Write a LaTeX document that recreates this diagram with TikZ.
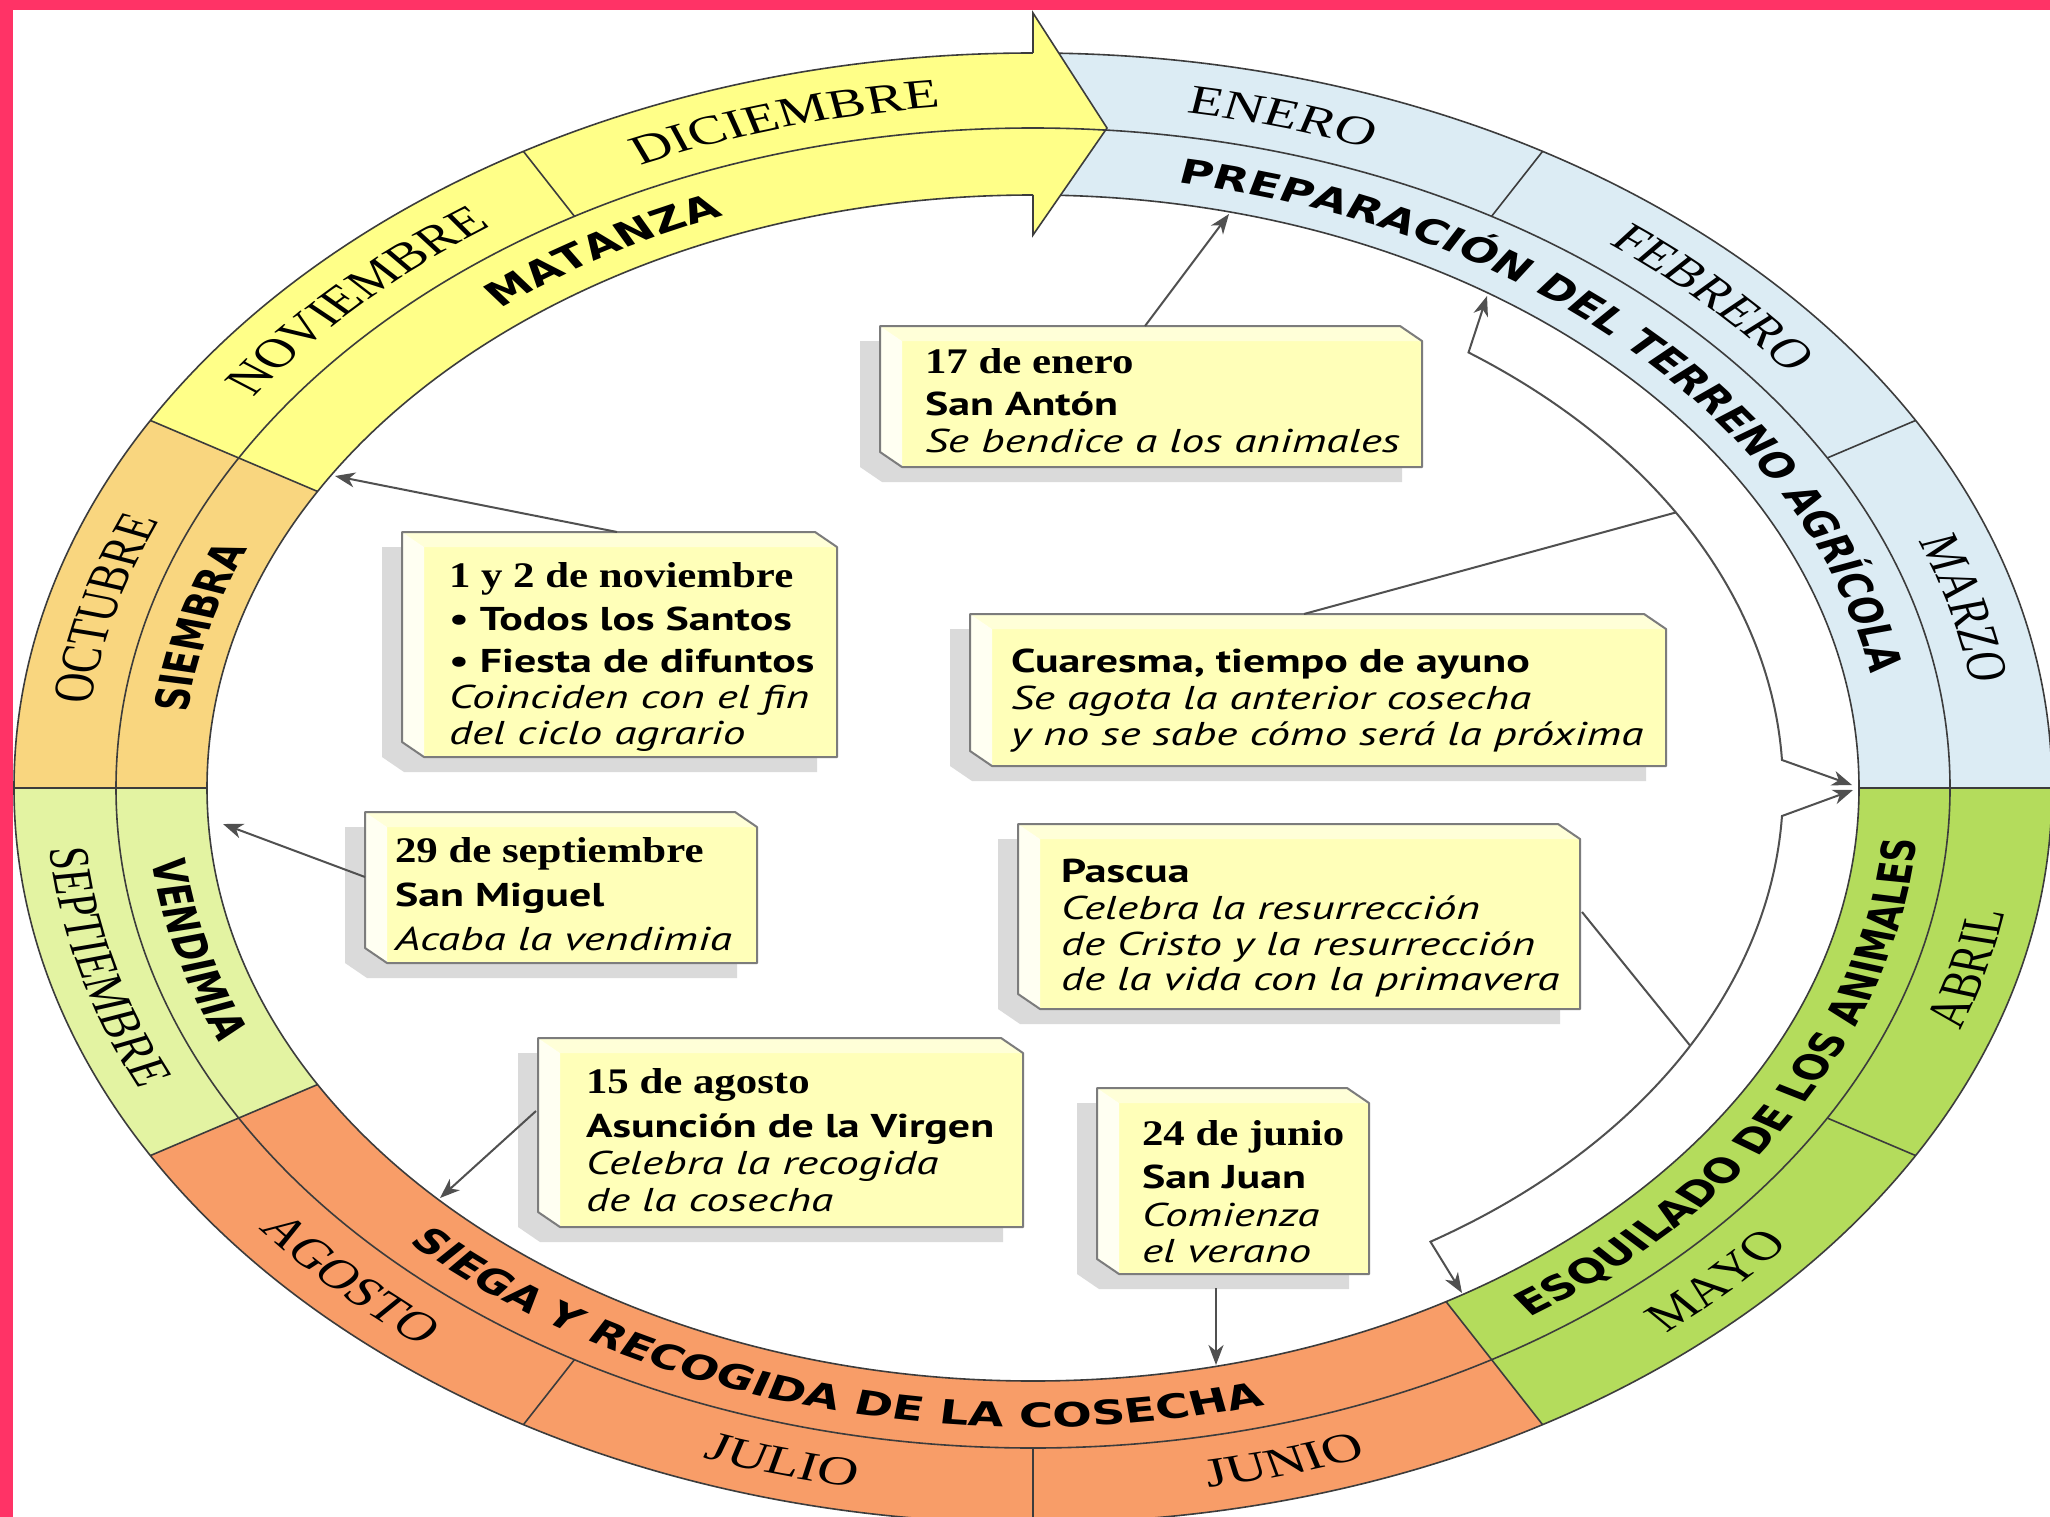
\documentclass[tikz,border=0pt]{standalone}
\usepackage{fontspec}
\setmainfont{Liberation Serif}
\newfontfamily\monthfam{Liberation Serif}
\newfontfamily\actfam{DejaVu Sans}
\newfontfamily\datefam[FakeStretch=1.19]{Liberation Serif}
\newfontfamily\boxboldfam[FakeStretch=1.33]{PT Sans}
\newfontfamily\boxitfam[FakeStretch=1.375]{PT Sans}
\usetikzlibrary{decorations.text,arrows.meta,calc}

\definecolor{framepink}{HTML}{FF3366}
\definecolor{cyellow}{HTML}{FFFF88}
\definecolor{corange}{HTML}{F9D67F}
\definecolor{clgreen}{HTML}{E3F3A2}
\definecolor{csalmon}{HTML}{F89D68}
\definecolor{cgreen}{HTML}{B4DC5C}
\definecolor{cblue}{HTML}{DCECF4}
\definecolor{ringline}{HTML}{3C3C3C}
\definecolor{boxfront}{HTML}{FFFFB9}
\definecolor{boxtop}{HTML}{FFFFD8}
\definecolor{boxleft}{HTML}{FFFFF2}
\definecolor{boxedge}{HTML}{7C7C7C}
\definecolor{boxshade}{HTML}{DADADA}
\definecolor{connline}{HTML}{505050}

\newcommand\boxdatefont{\datefam\bfseries\fontsize{36}{40}\selectfont}
\newcommand\boxnamefont{\boxboldfam\bfseries\fontsize{33}{38}\selectfont}
\newcommand\boxitfont{\boxitfam\itshape\fontsize{33}{38}\selectfont}
\newcommand\ringmonthfont{\monthfam\fontsize{41}{45}\selectfont}
\newcommand\ringactfont{\actfam\bfseries\fontsize{33.5}{38}\selectfont}

\tikzset{
  ringedge/.style={draw=ringline, line width=1.6pt},
  conn/.style={draw=connline, line width=2pt},
  tipped/.style={-{Stealth[length=20pt,width=15pt,inset=6pt]}},
  bothtipped/.style={{Stealth[length=20pt,width=15pt,inset=6pt]}-{Stealth[length=20pt,width=15pt,inset=6pt]}},
  txt/.style={anchor=base west, inner sep=0pt, outer sep=0pt},
  boxanchor/.style={inner sep=0pt, outer sep=0pt, anchor=north west},
  cwtext/.style={decorate, decoration={text along path, text align=center, text={#1}}},
}

% #1 name, #2 L, #3 T, #4 R, #5 B  (image pixels, y downwards)
\newcommand\evbox[5]{%
  \fill[boxshade] (#2-20,-#3-15) -- (#4-42,-#3-15) -- (#4-20,-#3-30) -- (#4-20,-#5-15) -- (#2+2,-#5-15) -- (#2-20,-#5) -- cycle;
  \node[boxanchor, minimum width={(#4-#2)*1pt}, minimum height={(#5-#3)*1pt}] (#1) at (#2,-#3) {};
  \fill[boxfront] (#2,-#3) -- (#4-22,-#3) -- (#4,-#3-15) -- (#4,-#5) -- (#2+22,-#5) -- (#2,-#5+15) -- cycle;
  \fill[boxtop] (#2,-#3) -- (#4-22,-#3) -- (#4,-#3-15) -- (#2+22,-#3-15) -- cycle;
  \fill[boxleft] (#2,-#3) -- (#2+22,-#3-15) -- (#2+22,-#5) -- (#2,-#5+15) -- cycle;
  \draw[boxedge, line width=2pt, line join=round] (#2,-#3) -- (#4-22,-#3) -- (#4,-#3-15) -- (#4,-#5) -- (#2+22,-#5) -- (#2,-#5+15) -- cycle;
}

\newcommand\ringsector[3]{%
  \fill[#3] (#1:1019 and 735) arc[start angle=#1,end angle=#2,x radius=1019,y radius=735]
    -- (#2:826 and 593) arc[start angle=#2,end angle=#1,x radius=826,y radius=593] -- cycle;}

\begin{document}
\begin{tikzpicture}[x=1pt,y=1pt]
\useasboundingbox (0,0) rectangle (2050,-1517);
\clip (0,0) rectangle (2050,-1517);
\fill[framepink] (0,0) rectangle (2050,-1517);
\fill[white] (13,-10) rectangle (2050,-1517);

% ---------------- ring shapes ----------------
\begin{scope}[shift={(1033,-788)}]
  \ringsector{90}{150}{cyellow}
  \ringsector{150}{180}{corange}
  \ringsector{180}{210}{clgreen}
  \ringsector{210}{300}{csalmon}
  \ringsector{300}{360}{cgreen}
  \ringsector{0}{90}{cblue}
  \draw[ringedge] (0,0) ellipse[x radius=1019,y radius=735];
  \draw[ringedge] (0,0) ellipse[x radius=917,y radius=660];
  \draw[ringedge] (0,0) ellipse[x radius=826,y radius=593];
  \foreach \a in {150,180,210,300,0}
    \draw[ringedge] (\a:826 and 593) -- (\a:1019 and 735);
  \foreach \a in {120,60,30,330,270,240}
    \draw[ringedge] (\a:917 and 660) -- (\a:1019 and 735);
  % arrow head
  \fill[cyellow] (0,775) -- (74,660) -- (0,553) -- cycle;
  \draw[ringedge, line join=miter] (0,735) -- (0,775) -- (74,660) -- (0,553) -- (0,593);
  \draw[ringedge] (90:917 and 660) arc[start angle=90,end angle=85.4,x radius=917,y radius=660];
\end{scope}

% ---------------- ring texts ----------------
\begin{scope}[transform canvas={shift={(1033pt,-788pt)},xscale=1.388}]
  % months, upper half (clockwise)
  \path[cwtext={|\ringmonthfont|OCTUBRE}] (180:684) arc[start angle=180,end angle=150,radius=684];
  \path[cwtext={|\ringmonthfont|NOVIEMBRE}] (150:684) arc[start angle=150,end angle=120,radius=684];
  \path[cwtext={|\ringmonthfont|DICIEMBRE}] (120:684) arc[start angle=120,end angle=90,radius=684];
  \path[cwtext={|\ringmonthfont|ENERO}] (90:684) arc[start angle=90,end angle=60,radius=684];
  \path[cwtext={|\ringmonthfont|FEBRERO}] (60:684) arc[start angle=60,end angle=30,radius=684];
  \path[cwtext={|\ringmonthfont|MARZO}] (30:684) arc[start angle=30,end angle=0,radius=684];
  % months, lower half (counter-clockwise)
  \path[cwtext={|\ringmonthfont|SEPTIEMBRE}] (180:711) arc[start angle=180,end angle=210,radius=711];
  \path[cwtext={|\ringmonthfont|AGOSTO}] (210:711) arc[start angle=210,end angle=240,radius=711];
  \path[cwtext={|\ringmonthfont|JULIO}] (240:711) arc[start angle=240,end angle=270,radius=711];
  \path[cwtext={|\ringmonthfont|JUNIO}] (270:711) arc[start angle=270,end angle=300,radius=711];
  \path[cwtext={|\ringmonthfont|MAYO}] (300:711) arc[start angle=300,end angle=330,radius=711];
  \path[cwtext={|\ringmonthfont|ABRIL}] (330:711) arc[start angle=330,end angle=360,radius=711];
  % activities
  \path[cwtext={|\ringactfont|SIEMBRA}] (180:614) arc[start angle=180,end angle=150,radius=614];
  \path[cwtext={|\ringactfont|MATANZA}] (150:614) arc[start angle=150,end angle=90,radius=614];
  \path[cwtext={|\ringactfont|PREPARACIÓN DEL TERRENO AGRÍCOLA}] (90.5:614) arc[start angle=90.5,end angle=0.5,radius=614];
  \path[cwtext={|\ringactfont|VENDIMIA}] (180:639) arc[start angle=180,end angle=210,radius=639];
  \path[cwtext={|\ringactfont|SIEGA Y RECOGIDA DE LA COSECHA}] (210.2:639) arc[start angle=210.2,end angle=300.2,radius=639];
  \path[cwtext={|\ringactfont|ESQUILADO DE LOS ANIMALES}] (299.7:639) arc[start angle=299.7,end angle=359.7,radius=639];
\end{scope}

% ---------------- boxes ----------------
\evbox{b1}{880}{326}{1422}{467}
\node[txt] (b1a) at (925,-373) {\boxdatefont 17 de enero};
\node[txt] (b1b) at (925,-415) {\boxnamefont San Antón};
\node[txt] (b1c) at (925,-452) {\boxitfont Se bendice a los animales};

\evbox{b2}{402}{532}{837}{757}
\node[txt] (b2a) at (449,-587) {\boxdatefont 1 y 2 de noviembre};
\node[txt] (b2b) at (449,-630) {\boxnamefont • Todos los Santos};
\node[txt] (b2c) at (449,-672) {\boxnamefont • Fiesta de difuntos};
\node[txt] (b2d) at (449,-708) {\boxitfont Coinciden con el fin};
\node[txt] (b2e) at (449,-744) {\boxitfont del ciclo agrario};

\evbox{b3}{970}{614}{1666}{766}
\node[txt] (b3a) at (1011,-672) {\boxnamefont Cuaresma, tiempo de ayuno};
\node[txt] (b3b) at (1011,-709) {\boxitfont Se agota la anterior cosecha};
\node[txt] (b3c) at (1011,-745) {\boxitfont y no se sabe cómo será la próxima};

\evbox{b4}{1018}{824}{1580}{1009}
\node[txt] (b4a) at (1061,-882) {\boxnamefont Pascua};
\node[txt] (b4b) at (1061,-919) {\boxitfont Celebra la resurrección};
\node[txt] (b4c) at (1061,-955) {\boxitfont de Cristo y la resurrección};
\node[txt] (b4d) at (1061,-990) {\boxitfont de la vida con la primavera};

\evbox{b5}{365}{812}{757}{963}
\node[txt] (b5a) at (395,-862) {\boxdatefont 29 de septiembre};
\node[txt] (b5b) at (395,-906) {\boxnamefont San Miguel};
\node[txt] (b5c) at (395,-950) {\boxitfont Acaba la vendimia};

\evbox{b6}{538}{1038}{1023}{1227}
\node[txt] (b6a) at (586,-1093) {\boxdatefont 15 de agosto};
\node[txt] (b6b) at (586,-1137) {\boxnamefont Asunción de la Virgen};
\node[txt] (b6c) at (586,-1174) {\boxitfont Celebra la recogida};
\node[txt] (b6d) at (586,-1211) {\boxitfont de la cosecha};

\evbox{b7}{1097}{1088}{1369}{1274}
\node[txt] (b7a) at (1142,-1145) {\boxdatefont 24 de junio};
\node[txt] (b7b) at (1142,-1188) {\boxnamefont San Juan};
\node[txt] (b7c) at (1142,-1226) {\boxitfont Comienza};
\node[txt] (b7d) at (1142,-1262) {\boxitfont el verano};

% ---------------- connectors ----------------
\coordinate (C) at (1033,-788);
\coordinate (b1s) at (1145,-326);   \coordinate (e1) at (1229,-214);
\coordinate (b2s) at (617,-532);    \coordinate (e2) at (335,-476);
\coordinate (b5s) at (365,-877);    \coordinate (e5) at (223,-824);
\coordinate (b6s) at (536,-1111);   \coordinate (e6) at (440,-1198);
\coordinate (b7s) at (1216,-1288);  \coordinate (e7) at (1216,-1365);
\draw[conn,tipped] (b1s) -- (e1);
\draw[conn,tipped] (b2s) -- (e2);
\draw[conn,tipped] (b5s) -- (e5);
\draw[conn,tipped] (b6s) -- (e6);
\draw[conn,tipped] (b7s) -- (e7);

% Cuaresma bracket
\coordinate (k1a) at (1487,-296);
\coordinate (k1b) at ($(C)+(54.5:750 and 535)$);
\coordinate (k1m) at ($(C)+(31:750 and 535)$);
\coordinate (k1c) at (1852,-785);
\coordinate (b3s) at (1304,-614);
\draw[conn,bothtipped] (k1a) -- (k1b) arc[start angle=54.5,end angle=3,x radius=750,y radius=535] -- (k1c);
\draw[conn] (b3s) -- (k1m);

% Pascua bracket
\coordinate (k2a) at (1853,-790);
\coordinate (k2b) at ($(C)+(-3:750 and 535)$);
\coordinate (k2m) at ($(C)+(-28.8:750 and 535)$);
\coordinate (k2c) at (1462,-1293);
\coordinate (b4s) at (1582,-912);
\draw[conn,bothtipped] (k2a) -- (k2b) arc[start angle=-3,end angle=-58,x radius=750,y radius=535] -- (k2c);
\draw[conn] (b4s) -- (k2m);
\end{tikzpicture}
\end{document}
